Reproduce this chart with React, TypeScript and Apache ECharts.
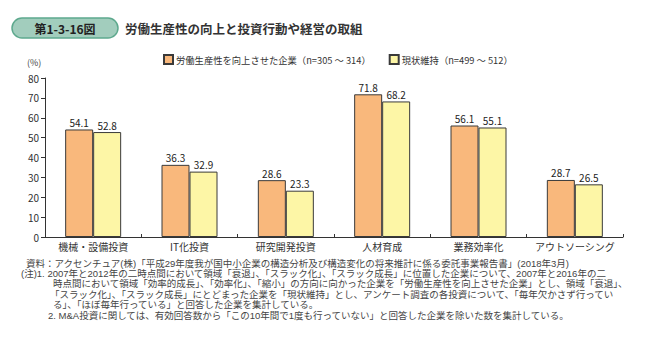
import React, { useEffect, useRef } from "react";
import * as echarts from "echarts";

const categories = ["機械・設備投資", "IT化投資", "研究開発投資", "人材育成", "業務効率化", "アウトソーシング"];
const improvedName = "労働生産性を向上させた企業（n=305 ～ 314）";
const keepName = "現状維持（n=499 ～ 512）";
const improved = [54.1, 36.3, 28.6, 71.8, 56.1, 28.7];
const keep = [52.8, 32.9, 23.3, 68.2, 55.1, 26.5];
const yTicks = { min: 0, max: 80, interval: 10 };

const titleBadge = "第1-3-16図";
const titleText = "労働生産性の向上と投資行動や経営の取組";
const notes = [
  "資料：アクセンチュア(株)「平成29年度我が国中小企業の構造分析及び構造変化の将来推計に係る委託事業報告書」(2018年3月)",
  "(注)1. 2007年と2012年の二時点間において領域「衰退」、「スラック化」、「スラック成長」に位置した企業について、2007年と2016年の二",
  "時点間において領域「効率的成長」、「効率化」、「縮小」の方向に向かった企業を「労働生産性を向上させた企業」とし、領域「衰退」、",
  "「スラック化」、「スラック成長」にとどまった企業を「現状維持」とし、アンケート調査の各投資について、「毎年欠かさず行ってい",
  "る」、「ほぼ毎年行っている」と回答した企業を集計している。",
  "2. M&A投資に関しては、有効回答数から「この10年間で1度も行っていない」と回答した企業を除いた数を集計している。",
];

const FONT = "'Noto Sans CJK JP', 'Noto Sans', sans-serif";
const NOTE_FONT = "'Liberation Sans', 'Noto Sans CJK JP', sans-serif";

export default function App() {
  const ref = useRef<HTMLDivElement>(null);
  useEffect(() => {
    if (!ref.current) return;
    const chart = echarts.init(ref.current, null, { renderer: "svg" });
    const LH = 10.45;
    const FS = 9.5;
    const noteX = [26, 21, 53, 50, 53, 48];
    chart.setOption({
      animation: false,
      textStyle: { fontFamily: FONT },
      grid: { left: 45, right: 25, top: 78, bottom: 118 },
      legend: {
        left: 158,
        top: 49,
        itemWidth: 9,
        itemHeight: 9,
        itemGap: 18,
        icon: "rect",
        textStyle: { fontSize: 9.3, color: "#333", fontFamily: FONT, padding: [0, 0, 0, -2] },
        data: [improvedName, keepName],
      },
      xAxis: {
        type: "category",
        data: categories,
        axisLine: { lineStyle: { color: "#333", width: 1 } },
        axisTick: { show: true, inside: true, length: 3, lineStyle: { color: "#333" } },
        axisLabel: { fontSize: 10, color: "#333", margin: 4, interval: 0, fontFamily: FONT },
      },
      yAxis: {
        type: "value",
        min: yTicks.min,
        max: yTicks.max,
        interval: yTicks.interval,
        splitLine: { show: false },
        axisLine: { show: true, lineStyle: { color: "#333", width: 1 } },
        axisTick: { show: true, length: 4, lineStyle: { color: "#333" } },
        axisLabel: { fontSize: 10, color: "#333", margin: 6, fontFamily: FONT },
      },
      series: [
        {
          name: improvedName,
          type: "bar",
          data: improved,
          barWidth: 28,
          barGap: "0%",
          itemStyle: { color: "#f9b87c", borderColor: "#3a3a3a", borderWidth: 1 },
          label: { show: true, position: "top", fontSize: 10, color: "#222", distance: 2, fontFamily: FONT },
        },
        {
          name: keepName,
          type: "bar",
          data: keep,
          barWidth: 28,
          barGap: "0%",
          itemStyle: { color: "#fdf6a6", borderColor: "#3a3a3a", borderWidth: 1 },
          label: { show: true, position: "top", fontSize: 10, color: "#222", distance: 2, fontFamily: FONT },
        },
      ],
      graphic: [
        {
          type: "rect",
          shape: { x: 12, y: 18, width: 106, height: 20, r: 10 },
          style: { fill: "#a2cdbd", stroke: "#5ea98e", lineWidth: 1.5 },
        },
        {
          type: "text",
          x: 65,
          y: 28,
          style: {
            text: titleBadge,
            fontSize: 12,
            fontWeight: "bold",
            fill: "#222",
            align: "center",
            verticalAlign: "middle",
            fontFamily: FONT,
          },
        },
        {
          type: "text",
          x: 125,
          y: 28,
          style: {
            text: titleText,
            fontSize: 12.5,
            fontWeight: "bold",
            fill: "#333",
            verticalAlign: "middle",
            fontFamily: FONT,
          },
        },
        {
          type: "text",
          x: 27,
          y: 62,
          style: { text: "(%)", fontSize: 9, fill: "#444", verticalAlign: "middle", fontFamily: FONT },
        },
        ...notes.map((t, i) => ({
          type: "text",
          x: noteX[i],
          y: 263 + i * LH,
          style: {
            text: t,
            fontSize: FS,
            lineHeight: LH,
            fill: "#444",
            verticalAlign: "middle",
            fontFamily: NOTE_FONT,
          },
        })),
      ],
    });
    return () => chart.dispose();
  }, []);
  return (
    <div
      ref={ref}
      style={{ position: "absolute", left: 0, top: 0, width: 648, height: 355 }}
    />
  );
}
